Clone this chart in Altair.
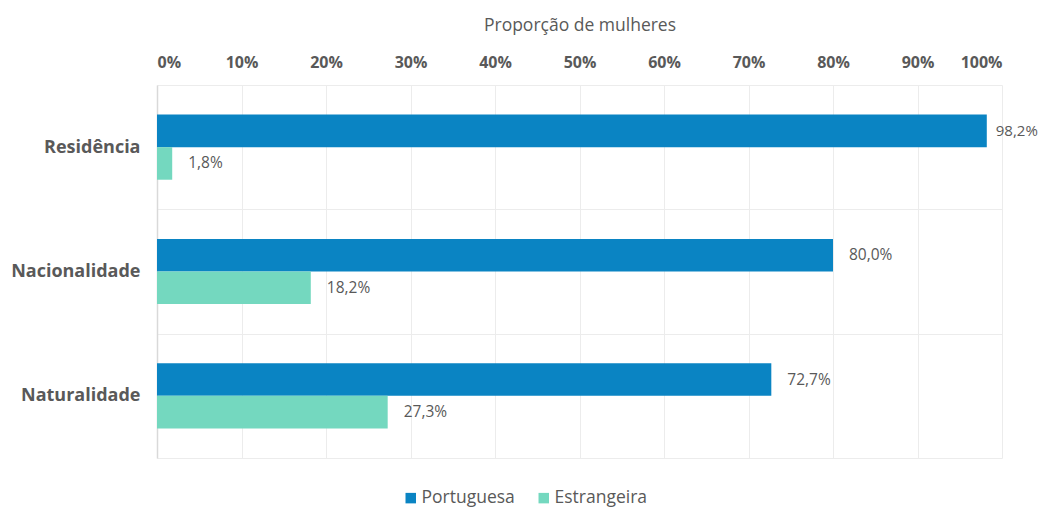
import altair as alt
import pandas as pd

categories = ["Residência", "Nacionalidade", "Naturalidade"]
series = ["Portuguesa", "Estrangeira"]
portuguesa = [98.2, 80.0, 72.7]
estrangeira = [1.8, 18.2, 27.3]
colors = ["#0A84C3", "#74D8BF"]
x_ticks = [i / 10 for i in range(11)]

rows = []
for c, p, e in zip(categories, portuguesa, estrangeira):
    for s, v in ((series[0], p), (series[1], e)):
        rows.append({"cat": c, "serie": s, "val": v / 100,
                     "lab": f"{v:.1f}".replace(".", ",") + "%"})
df = pd.DataFrame(rows)

FONT = "Open Sans"
GRAY = "#595959"

y_enc = alt.Y("cat:N", sort=categories, title=None,
              scale=alt.Scale(paddingInner=0, paddingOuter=0),
              axis=alt.Axis(tickBand="extent", grid=True, gridColor="#ececec",
                            ticks=False, domainColor="#d9d9d9", domainWidth=1.5,
                            labelFont=FONT, labelFontWeight="bold", labelFontSize=18,
                            labelColor=GRAY, labelPadding=17))
yoff = alt.YOffset("serie:N", sort=series,
                   scale=alt.Scale(paddingInner=0, paddingOuter=0.91))

base = alt.Chart(df)

bars = base.mark_bar().encode(
    x=alt.X("val:Q", scale=alt.Scale(domain=[0, 1], nice=False),
            title="Proporção de mulheres",
            axis=alt.Axis(orient="top", format="%", values=x_ticks, ticks=False,
                          domain=False, grid=True, gridColor="#ececec",
                          labelFont=FONT, labelFontWeight="bold", labelFontSize=16,
                          labelColor=GRAY, labelPadding=15,
                          titleFont=FONT, titleFontWeight="normal", titleFontSize=17.5,
                          titleColor=GRAY, titlePadding=20)),
    y=y_enc,
    yOffset=yoff,
    color=alt.Color("serie:N", sort=series, title=None,
                    scale=alt.Scale(domain=series, range=colors),
                    legend=alt.Legend(orient="none", direction="horizontal",
                                      legendX=245, legendY=404,
                                      symbolType="square", symbolSize=110,
                                      symbolStrokeWidth=0, columnPadding=20,
                                      labelFont=FONT, labelFontSize=17.5,
                                      labelColor=GRAY, labelOffset=2)),
)

text_enc = dict(
    x="val:Q",
    y=alt.Y("cat:N", sort=categories),
    yOffset=yoff,
    text="lab:N",
)

texts = base.mark_text(align="left", baseline="middle", dx=16, font=FONT,
                       fontSize=15.5, color=GRAY).encode(**text_enc).transform_filter(
    "datum.val < 0.95")
texts_edge = base.mark_text(align="left", baseline="middle", dx=9, font=FONT,
                            fontSize=15, color=GRAY).encode(**text_enc).transform_filter(
    "datum.val >= 0.95")

chart = (bars + texts + texts_edge).properties(
    width=845, height=373,
    padding={"left": 149, "top": 77, "right": 38, "bottom": 50},
    autosize=alt.AutoSizeParams(type="none"),
).configure_view(stroke=None)

chart.save("out.html", embed_options={"renderer": "svg", "actions": False})
